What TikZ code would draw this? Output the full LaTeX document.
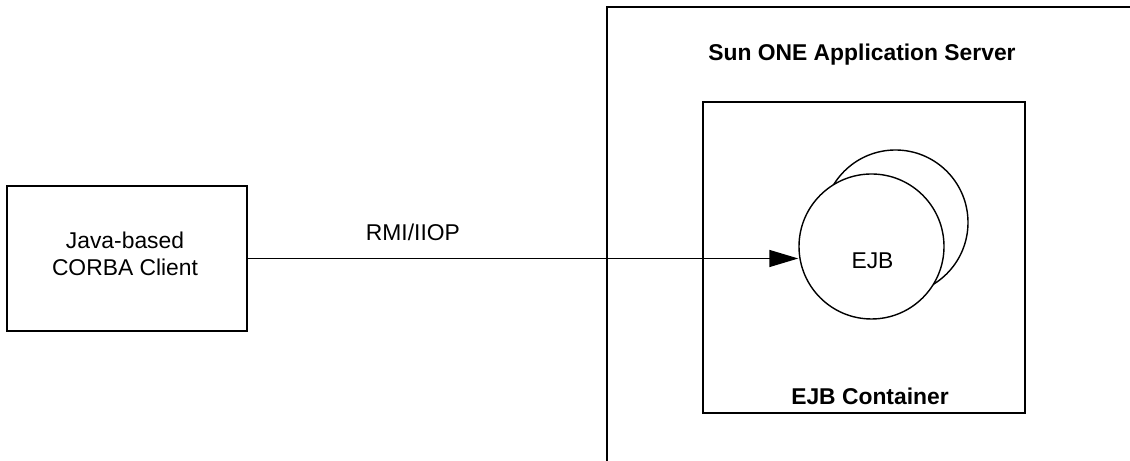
\documentclass[tikz,border=0pt]{standalone}
\usepackage{fontspec}
\setmainfont{Liberation Sans}
\usepackage{tikz}
\usetikzlibrary{shapes,positioning,arrows.meta}
\tikzset{box/.style={rectangle,draw,line width=0.8pt,inner sep=0pt},
         bean/.style={circle,draw,fill=white,line width=0.8pt,minimum size=2.9cm,inner sep=0pt},
         txt/.style={font=\fontsize{13}{15.4}\selectfont,align=center,inner sep=0pt}}

\begin{document}
\begin{tikzpicture}[>={Triangle[length=0.58cm,width=0.34cm]}]
    \useasboundingbox (0,0) rectangle (22.6,9.22);
    \begin{scope}
        \clip (0,0) rectangle (22.6,9.22);
        \draw [line width=0.8pt] (12.14,-1) rectangle (24,9.08);
    \end{scope}
    \node[txt,font=\fontsize{13}{15.4}\selectfont\bfseries] (server) at (17.24,8.12) {Sun ONE Application Server};

    \node[box,minimum width=6.44cm,minimum height=6.22cm] (container) at (17.28,4.07) {};
    \node[txt,font=\fontsize{13}{15.4}\selectfont\bfseries] (conttitle) at (17.4,1.3) {EJB Container};

    \node[bean] (ejbback) at (17.91,4.77) {};
    \node[bean] (ejb) at (17.43,4.29) {};
    \node[txt] (ejbname) at (17.45,4.01) {EJB};

    \node[box,minimum width=4.8cm,minimum height=2.9cm] (client) at (2.54,4.05) {};
    \node[txt] (clientname) at (2.5,4.14) {Java-based\\ CORBA Client};

    \draw [->,line width=0.8pt] (client.east) to []node[txt,above=0.35cm,pos=0.3]{RMI/IIOP} (client.east -| ejb.west);
\end{tikzpicture}
\end{document}
